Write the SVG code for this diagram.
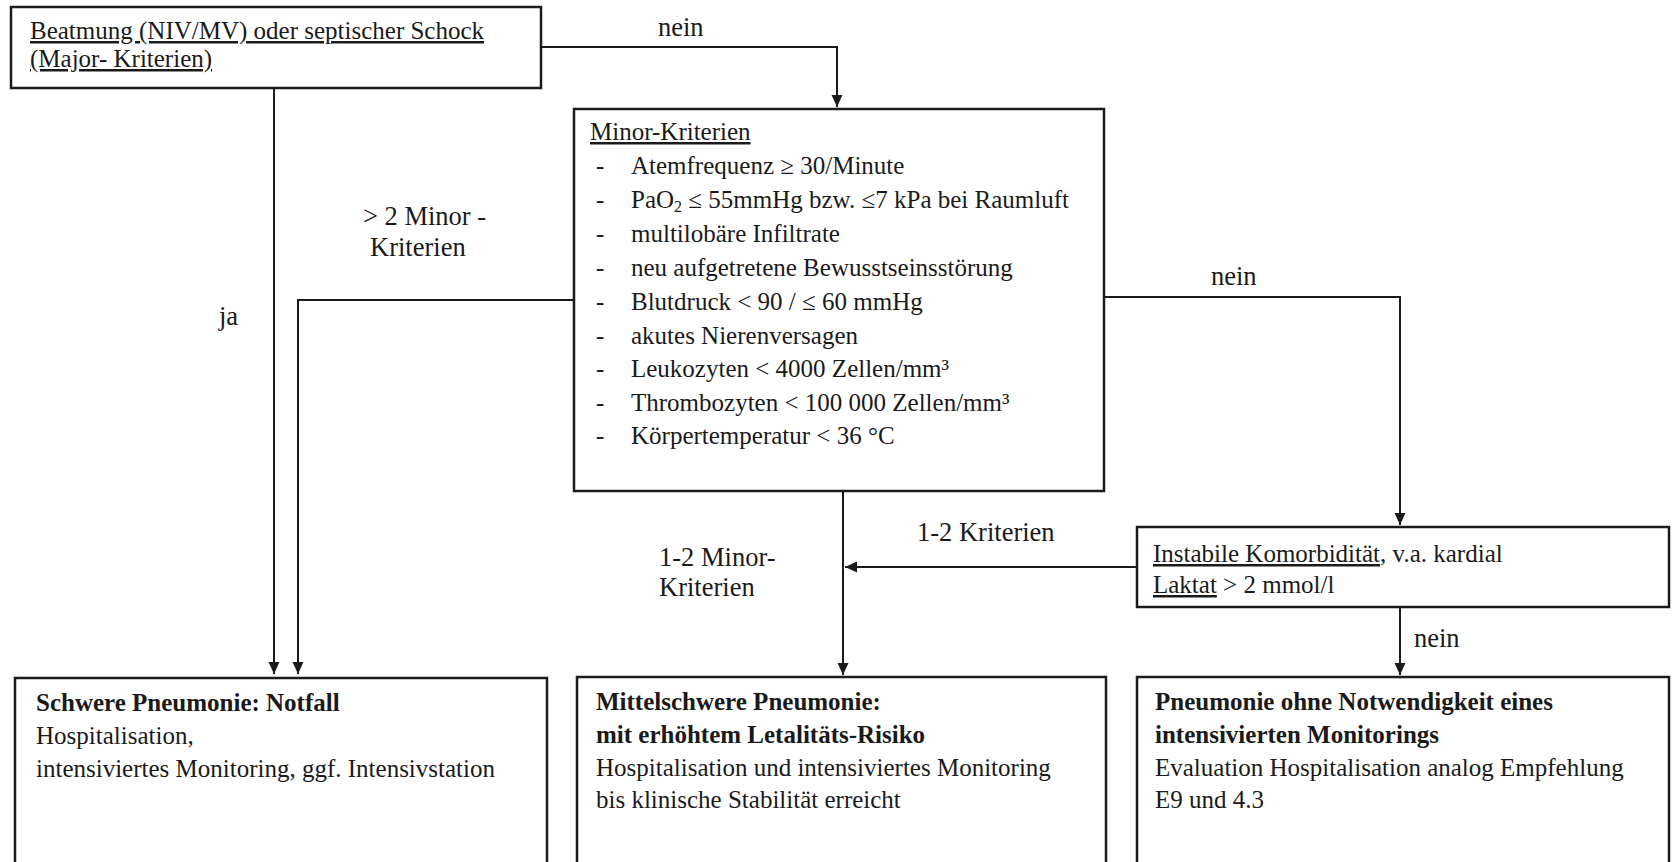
<svg xmlns="http://www.w3.org/2000/svg" width="1673" height="862" viewBox="0 0 1673 862">
<defs>
<marker id="ah" markerUnits="userSpaceOnUse" markerWidth="12" markerHeight="12" refX="11" refY="5" orient="auto" viewBox="0 0 11 10">
<path d="M0,0 L11,5 L0,10 z" fill="#1a1a1a"/>
</marker>
<style>
.box{fill:#fff;stroke:#1a1a1a;stroke-width:2.5}
.conn{fill:none;stroke:#1a1a1a;stroke-width:2}
.t{font-family:"Liberation Serif","Times New Roman",serif;font-size:25px;fill:#1a1a1a}
.b{font-weight:bold}
.u{text-decoration:underline}
.lbl{font-family:"Liberation Serif","Times New Roman",serif;font-size:26.5px;fill:#1a1a1a}
</style>
</defs>
<rect width="1673" height="862" fill="#fff"/>

<g id="connectors">
<path class="conn" d="M274,88 V674" marker-end="url(#ah)"/>
<path class="conn" d="M541,47 H837 V107" marker-end="url(#ah)"/>
<path class="conn" d="M574,300 H298 V674" marker-end="url(#ah)"/>
<path class="conn" d="M1104,297 H1400 V525" marker-end="url(#ah)"/>
<path class="conn" d="M843,491 V675" marker-end="url(#ah)"/>
<path class="conn" d="M1137,567 H845" marker-end="url(#ah)"/>
<path class="conn" d="M1400,607 V675" marker-end="url(#ah)"/>
<text class="lbl" x="658" y="36">nein</text>
<text class="lbl" x="219" y="325">ja</text>
<text class="lbl" x="363" y="225">&gt; 2 Minor -</text>
<text class="lbl" x="370" y="256">Kriterien</text>
<text class="lbl" x="1211" y="285">nein</text>
<text class="lbl" x="917" y="541">1-2 Kriterien</text>
<text class="lbl" x="659" y="566">1-2 Minor-</text>
<text class="lbl" x="659" y="596">Kriterien</text>
<text class="lbl" x="1414" y="647">nein</text>
</g>

<g id="major">
<rect class="box" x="11" y="7" width="530" height="81"/>
<text class="t u" x="30" y="39">Beatmung (NIV/MV) oder septischer Schock</text>
<text class="t u" x="30" y="67">(Major- Kriterien)</text>
</g>

<g id="minor">
<rect class="box" x="574" y="109" width="530" height="382"/>
<text class="t u" x="590" y="140">Minor-Kriterien</text>
<g class="t">
<text x="596" y="174">-</text><text x="631" y="174">Atemfrequenz ≥ 30/Minute</text>
<text x="596" y="208">-</text><text x="631" y="208">PaO<tspan font-size="16" dy="4">2</tspan><tspan dy="-4"> ≤ 55mmHg bzw. ≤7 kPa bei Raumluft</tspan></text>
<text x="596" y="242">-</text><text x="631" y="242">multilobäre Infiltrate</text>
<text x="596" y="276">-</text><text x="631" y="276">neu aufgetretene Bewusstseinsstörung</text>
<text x="596" y="310">-</text><text x="631" y="310">Blutdruck &lt; 90 / ≤ 60 mmHg</text>
<text x="596" y="344">-</text><text x="631" y="344">akutes Nierenversagen</text>
<text x="596" y="377">-</text><text x="631" y="377">Leukozyten &lt; 4000 Zellen/mm³</text>
<text x="596" y="411">-</text><text x="631" y="411">Thrombozyten &lt; 100 000 Zellen/mm³</text>
<text x="596" y="444">-</text><text x="631" y="444">Körpertemperatur &lt; 36 °C</text>
</g>
</g>

<g id="instabil">
<rect class="box" x="1137" y="527" width="532" height="80"/>
<text class="t" x="1153" y="562"><tspan class="u">Instabile Komorbidität</tspan>, v.a. kardial</text>
<text class="t" x="1153" y="593"><tspan class="u">Laktat</tspan> &gt; 2 mmol/l</text>
</g>

<g id="schwer">
<rect class="box" x="15" y="678" width="532" height="200"/>
<text class="t b" x="36" y="711">Schwere Pneumonie: Notfall</text>
<text class="t" x="36" y="744">Hospitalisation,</text>
<text class="t" x="36" y="777">intensiviertes Monitoring, ggf. Intensivstation</text>
</g>

<g id="mittel">
<rect class="box" x="577" y="677" width="529" height="200"/>
<text class="t b" x="596" y="710">Mittelschwere Pneumonie:</text>
<text class="t b" x="596" y="743">mit erhöhtem Letalitäts-Risiko</text>
<text class="t" x="596" y="776">Hospitalisation und intensiviertes Monitoring</text>
<text class="t" x="596" y="808">bis klinische Stabilität erreicht</text>
</g>

<g id="leicht">
<rect class="box" x="1137" y="677" width="532" height="200"/>
<text class="t b" x="1155" y="710">Pneumonie ohne Notwendigkeit eines</text>
<text class="t b" x="1155" y="743">intensivierten Monitorings</text>
<text class="t" x="1155" y="776">Evaluation Hospitalisation analog Empfehlung</text>
<text class="t" x="1155" y="808">E9 und 4.3</text>
</g>
</svg>
